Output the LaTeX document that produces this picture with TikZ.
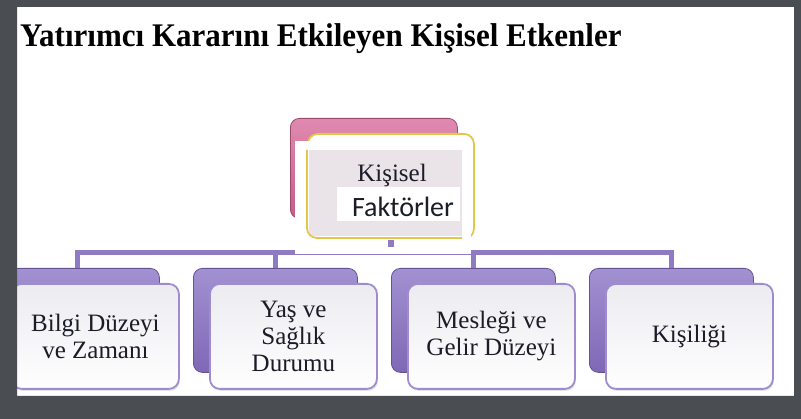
\documentclass[tikz,border=0pt]{standalone}
\usepackage{fontspec}
\setmainfont{Liberation Serif}
\newfontfamily\calibfont{Carlito}
\usetikzlibrary{shadows}
\definecolor{framegray}{HTML}{4A4E53}
\definecolor{purpleback}{HTML}{7F68B5}
\definecolor{purplelight}{HTML}{A291D2}
\definecolor{purpleedge}{HTML}{9D8DCF}
\definecolor{lineP}{HTML}{8E7BC4}
\definecolor{pinkback}{HTML}{C45C88}
\definecolor{pinklight}{HTML}{E08AB0}
\definecolor{goldedge}{HTML}{E6C54C}
\definecolor{frontfill}{HTML}{ECEBF0}
\definecolor{innerfill}{HTML}{EAE4E8}
\definecolor{textdark}{HTML}{1C1C28}
\begin{document}
\begin{tikzpicture}[x=1pt,y=-1pt,
  backbox/.style={draw=purpleback!80!black, line width=0.8pt, rounded corners=9pt,
    top color=purplelight, bottom color=purpleback, anchor=north west,
    minimum width=164pt, minimum height=104pt, inner sep=0pt},
  frontbox/.style={draw=purpleedge, line width=1.8pt, rounded corners=10pt,
    top color=frontfill, bottom color=white!97!frontfill, anchor=north west,
    minimum width=167pt, minimum height=105pt, inner sep=0pt, align=center,
    text=textdark, font=\fontsize{25}{27}\selectfont,
    drop shadow={opacity=0.22, shadow xshift=1pt, shadow yshift=-2pt}},
  pinkbox/.style={draw=pinkback!80!black, line width=0.8pt, rounded corners=9pt,
    top color=pinklight, bottom color=pinkback, anchor=north west,
    minimum width=167pt, minimum height=100pt, inner sep=0pt},
  goldbox/.style={draw=goldedge, line width=1.8pt, rounded corners=10pt, fill=white,
    anchor=north west, minimum width=166pt, minimum height=105pt, inner sep=0pt},
  conn/.style={draw=lineP, line width=5pt},
  txt/.style={text=textdark, inner sep=0pt, anchor=base}
]
\useasboundingbox (0,0) rectangle (801,419);
\fill[white] (0,0) rectangle (801,419);

% title
\node[anchor=base west, inner sep=0pt] (title) at (20,47)
  {\scalebox{0.94}[1]{\fontsize{33}{33}\selectfont\bfseries Yatırımcı Kararını Etkileyen Kişisel Etkenler}};

% back boxes (children)
\node[backbox] (b1) at (-5,268) {};
\node[backbox] (b2) at (193,268) {};
\node[backbox] (b3) at (391,268) {};
\node[backbox] (b4) at (589,268) {};

% connectors
\coordinate (hub) at (373,253);
\draw[conn] (b1.north) -- (b1.north |- hub) -- (b4.north |- hub) -- (b4.north);
\draw[conn] (b2.north) -- (b2.north |- hub);
\draw[conn] (b3.north) -- (b3.north |- hub);

% front boxes (children)
\node[frontbox] (f1) at (11,283) {Bilgi Düzeyi\\ve Zamanı};
\node[frontbox] (f2) at (209,283) {Yaş ve\\Sağlık\\Durumu};
\node[frontbox] (f3) at (407,283) {Mesleği ve\\Gelir Düzeyi};
\node[frontbox] (f4) at (605,283) {Kişiliği};

% top node
\node[pinkbox] (tback) at (290,118) {};
\node[goldbox] (top) at (307,133) {};
\fill[white] (295,141) rectangle (471,254.5);
\fill[innerfill] (309,150) rectangle (462,236);
\draw[goldedge, line width=1.8pt, rounded corners=10pt] (307,150) -- (307,238) -- (462,238);
\fill[white] (337,187) rectangle (460,221);
\draw[lineP, line width=6pt] (top.south) -- (top.south |- {(0,247)});
\node[txt, font=\fontsize{25}{27}\selectfont] (t1) at (392,182) {Kişisel};
\node[txt, font=\calibfont\fontsize{28}{30}\selectfont] (t2) at (403,217) {Faktörler};

% dark frame
\fill[framegray, even odd rule] (0,0) rectangle (801,419) (17,7) rectangle (794,396);
\end{tikzpicture}
\end{document}
